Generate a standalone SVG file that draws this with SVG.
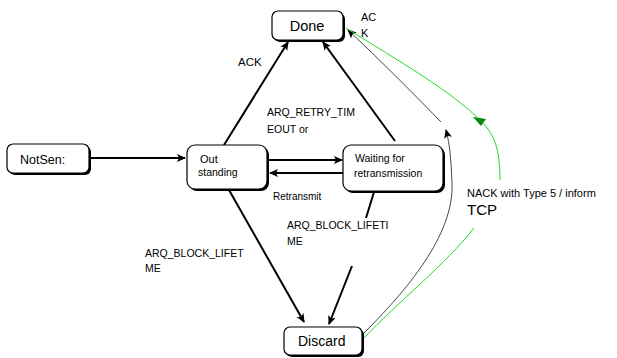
<svg xmlns="http://www.w3.org/2000/svg" width="617" height="358" viewBox="0 0 617 358">
<defs>
<style>
.box{fill:#fff;stroke:#000;stroke-width:1.2}
.sh{fill:#000}
.lbl{font-family:"Liberation Sans",Arial,sans-serif;fill:#000}
.e{fill:none;stroke:#000;stroke-width:2}
.thin{fill:none;stroke:#333;stroke-width:0.9}
.g{fill:none;stroke:#22dd22;stroke-width:1}
</style>
<marker id="ah" markerWidth="10" markerHeight="10" refX="8" refY="4" orient="auto" markerUnits="userSpaceOnUse">
<path d="M0,0 L9,4 L0,8 L2,4 Z" fill="#000"/>
</marker>
</defs>
<rect width="617" height="358" fill="#fff"/>

<g id="connectors">
<line class="e" x1="90" y1="158" x2="185" y2="158" marker-end="url(#ah)"/>
<line class="e" x1="268" y1="160" x2="342" y2="160" marker-end="url(#ah)"/>
<line class="e" x1="343" y1="173" x2="270" y2="173" marker-end="url(#ah)"/>
<line class="e" x1="224" y1="145" x2="288" y2="42" marker-end="url(#ah)"/>
<line class="e" x1="395" y1="141" x2="323" y2="42" marker-end="url(#ah)"/>
<line class="e" x1="229" y1="190" x2="304" y2="322" marker-end="url(#ah)"/>
<line class="e" x1="374" y1="192" x2="366" y2="218"/>
<line class="e" x1="352" y1="266" x2="329" y2="324" marker-end="url(#ah)"/>
<path class="thin" d="M363,334 C405,292 455,235 452,182 C451,160 450,145 446,130" marker-end="url(#ah)"/>
<path class="thin" d="M441,122 C410,90 380,60 348,30" marker-end="url(#ah)"/>
<path class="g" d="M362,340 C400,300 445,265 474,228"/>
<path class="g" d="M500,180 C500,150 495,135 481,121 C450,90 400,62 346,28"/>
<polygon points="473,117 486,119 481,126" fill="#0a8a0a"/>
</g>

<g id="done">
<rect class="sh" x="274" y="13" width="71" height="29" rx="6"/>
<rect class="box" x="272" y="11" width="71" height="29" rx="6"/>
<text class="lbl" x="307" y="31" font-size="14.5" text-anchor="middle">Done</text>
</g>

<g id="notsent">
<rect class="sh" x="9" y="146" width="82" height="29" rx="6"/>
<rect class="box" x="7" y="144" width="82" height="29" rx="6"/>
<text class="lbl" x="20" y="164" font-size="12.5">NotSen:</text>
</g>

<g id="outstanding">
<rect class="sh" x="189" y="147" width="80" height="44" rx="8"/>
<rect class="box" x="187" y="145" width="80" height="44" rx="8"/>
<text class="lbl" x="200" y="163" font-size="11">Out</text>
<text class="lbl" x="198" y="176" font-size="10.5">standing</text>
</g>

<g id="waiting">
<rect class="sh" x="345" y="147" width="100" height="46" rx="8"/>
<rect class="box" x="343" y="145" width="100" height="46" rx="8"/>
<text class="lbl" x="355" y="162" font-size="10.5">Waiting for</text>
<text class="lbl" x="354" y="177" font-size="10.5">retransmission</text>
</g>

<g id="discard">
<rect class="sh" x="286" y="329" width="78" height="28" rx="6"/>
<rect class="box" x="284" y="327" width="78" height="28" rx="6"/>
<text class="lbl" x="298" y="346" font-size="14">Discard</text>
</g>

<g id="labels">
<text class="lbl" x="238" y="66" font-size="11.5">ACK</text>
<text class="lbl" x="267" y="116" font-size="10.5">ARQ_RETRY_TIM</text>
<text class="lbl" x="267" y="133" font-size="10.5">EOUT or</text>
<text class="lbl" x="273" y="200" font-size="10">Retransmit</text>
<text class="lbl" x="287" y="229" font-size="10.5">ARQ_BLOCK_LIFETI</text>
<text class="lbl" x="287" y="245" font-size="10.5">ME</text>
<text class="lbl" x="145" y="257" font-size="10.5">ARQ_BLOCK_LIFET</text>
<text class="lbl" x="145" y="272" font-size="10.5">ME</text>
<text class="lbl" x="361" y="21" font-size="11">AC</text>
<text class="lbl" x="361" y="37" font-size="11">K</text>
<text class="lbl" x="467" y="197" font-size="11">NACK with Type 5 / inform</text>
<text class="lbl" x="467" y="215" font-size="15">TCP</text>
</g>
</svg>
